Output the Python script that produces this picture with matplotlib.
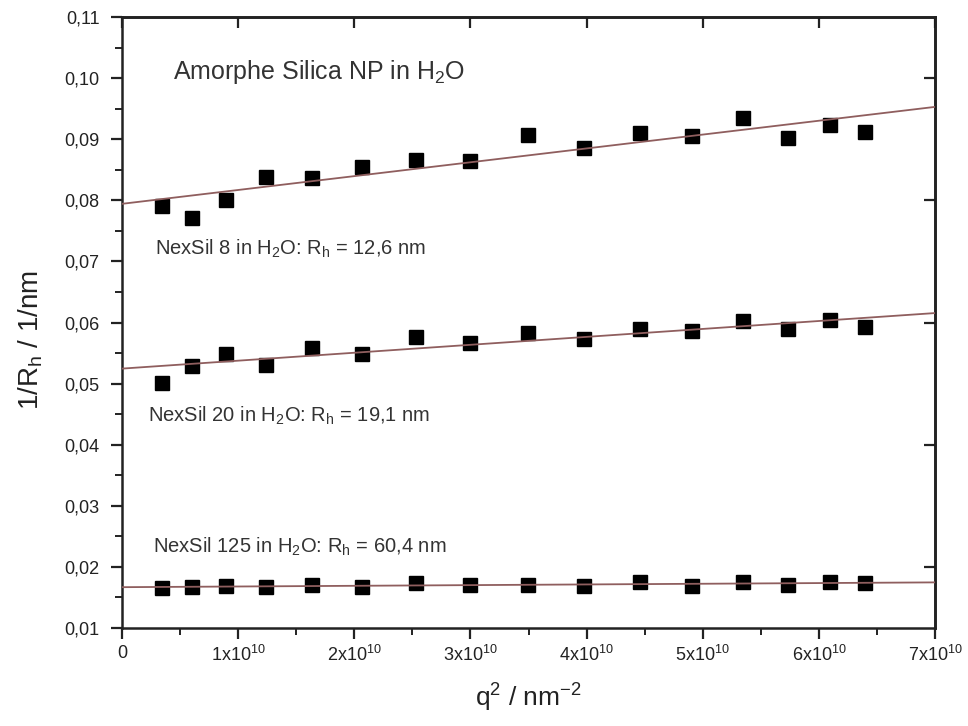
import numpy as np
import matplotlib
matplotlib.use("Agg")
import matplotlib.pyplot as plt
from matplotlib.ticker import MultipleLocator, FuncFormatter

plt.rcParams["font.family"] = ["Liberation Sans", "DejaVu Sans"]
plt.rcParams["mathtext.default"] = "regular"

# q^2 values (nm^-2), shared by all three samples
q2 = np.array([0.344, 0.603, 0.895, 1.240, 1.636, 2.069, 2.531, 2.999,
               3.496, 3.978, 4.460, 4.908, 5.347, 5.735, 6.094, 6.395]) * 1e10

# 1/Rh (1/nm)
nexsil8 = [0.0791, 0.0771, 0.0800, 0.0838, 0.0836, 0.0855, 0.0866, 0.0865,
           0.0907, 0.0886, 0.0911, 0.0906, 0.0935, 0.0902, 0.0923, 0.0912]
nexsil20 = [0.0501, 0.0529, 0.0548, 0.0531, 0.0559, 0.0548, 0.0576, 0.0567,
            0.0583, 0.0573, 0.0590, 0.0586, 0.0602, 0.0589, 0.0604, 0.0592]
nexsil125 = [0.0165, 0.0167, 0.0169, 0.0167, 0.0171, 0.0167, 0.0173, 0.0171,
             0.0171, 0.0169, 0.0175, 0.0169, 0.0175, 0.0171, 0.0175, 0.0173]

labels = [r"NexSil 8 in H$_2$O: R$_h$ = 12,6 nm",
          r"NexSil 20 in H$_2$O: R$_h$ = 19,1 nm",
          r"NexSil 125 in H$_2$O: R$_h$ = 60,4 nm"]
label_pos = [(0.041, 0.620), (0.032, 0.347), (0.038, 0.133)]

fig = plt.figure(figsize=(9.68, 7.26), dpi=100)
ax = fig.add_axes([0.126, 0.135, 0.840, 0.8415])

# linear fit through each series, drawn across the full q^2 range
xfit = np.array([0, 7e10])
for y in (nexsil8, nexsil20, nexsil125):
    k, d = np.polyfit(q2, y, 1)
    ax.plot(q2, y, "s", color="black", ms=10, zorder=2)
    ax.plot(xfit, k * xfit + d, color="#8f5e5e", lw=1.3, zorder=3)

for txt, (fx, fy) in zip(labels, label_pos):
    ax.text(fx, fy, txt, transform=ax.transAxes, fontsize=14.5,
            color="#333333", va="center")

ax.text(0.063, 0.910, r"Amorphe Silica NP in H$_2$O", fontsize=18,
        color="#333333", va="center", transform=ax.transAxes)

ax.set_xlim(0, 7e10)
ax.set_ylim(0.01, 0.11)
ax.xaxis.set_major_locator(MultipleLocator(1e10))
ax.xaxis.set_minor_locator(MultipleLocator(0.5e10))
ax.yaxis.set_major_locator(MultipleLocator(0.01))
ax.yaxis.set_minor_locator(MultipleLocator(0.005))


def xfmt(v, pos):
    n = int(round(v / 1e10))
    return "0" if n == 0 else r"%dx10$^{10}$" % n


ax.xaxis.set_major_formatter(FuncFormatter(xfmt))
ax.yaxis.set_major_formatter(FuncFormatter(lambda v, p: ("%.2f" % v).replace(".", ",")))

for s in ax.spines.values():
    s.set_linewidth(1.8)
    s.set_color("#222222")
ax.tick_params(which="major", direction="out", length=8, width=1.6,
               labelsize=13, colors="#222222")
ax.tick_params(axis="y", which="major", pad=8)
ax.tick_params(axis="x", which="major", pad=4)
ax.tick_params(which="minor", direction="out", length=5, width=1.4, colors="#222222")

# top and right ticks point inwards
for sec in (ax.secondary_xaxis("top"), ax.secondary_yaxis("right")):
    sec.tick_params(which="major", direction="in", length=8, width=1.6,
                    labelleft=False, labelright=False, labeltop=False,
                    labelbottom=False, colors="#222222")
    sec.tick_params(which="minor", direction="in", length=5, width=1.4,
                    colors="#222222")
    sec.spines[:].set_linewidth(1.8)

ax.set_xlabel(r"q$^2$ / nm$^{-2}$", fontsize=19, color="#222222", labelpad=12)
ax.set_ylabel(r"1/R$_h$ / 1/nm", fontsize=20, color="#222222")
ax.yaxis.set_label_coords(-0.095, 0.471)

fig.savefig("out.png", dpi=100)
